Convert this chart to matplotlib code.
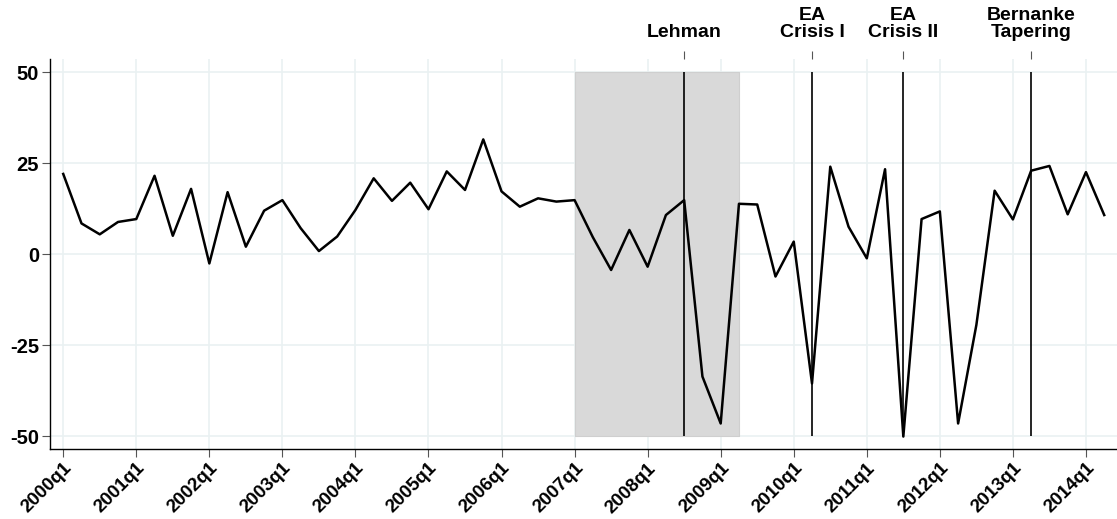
import matplotlib.pyplot as plt

plt.rcParams["font.family"] = ["Liberation Sans", "DejaVu Sans"]
plt.rcParams["font.weight"] = "bold"

# Quarterly series, 2000q1 - 2014q2
quarters = [f"{y}q{q}" for y in range(2000, 2015) for q in range(1, 5)][:58]
values = [22.1, 8.5, 5.5, 8.9, 9.7, 21.6, 5.1, 18.0, -2.5, 17.1,
          2.1, 12.0, 14.9, 7.2, 0.9, 4.9, 12.2, 20.9, 14.7, 19.7,
          12.4, 22.8, 17.7, 31.6, 17.3, 13.1, 15.4, 14.5, 14.9, 4.7,
          -4.3, 6.7, -3.4, 10.8, 14.9, -33.6, -46.5, 13.9, 13.7, -6.1,
          3.5, -35.5, 24.1, 7.6, -1.1, 23.4, -50.1, 9.7, 11.8, -46.5,
          -19.4, 17.5, 9.6, 23.0, 24.3, 11.0, 22.6, 10.8]

# Events (quarter labels) and the shaded crisis period
event_quarters = ["2008q3", "2010q2", "2011q3", "2013q2"]
event_labels = ["Lehman", "EA\nCrisis I", "EA\nCrisis II", "Bernanke\nTapering"]
shade_start, shade_end = "2007q1", "2009q2"

yticks = [-50, -25, 0, 25, 50]

x = list(range(len(values)))
pos = {q: i for i, q in enumerate(quarters)}
event_x = [pos[q] for q in event_quarters]

fig = plt.figure(figsize=(11.17, 5.19), dpi=100)
ax = fig.add_axes([0.045, 0.1343, 0.955, 0.752])

ax.fill_between([pos[shade_start], pos[shade_end]], -50, 50,
                color="#d9d9d9", edgecolor="#cfcfcf", lw=0.8, zorder=1)
ax.vlines(event_x, -50, 50, color="black", lw=1.2, zorder=2)
ax.plot(x, values, color="black", lw=1.8, zorder=3)

ax.set_xlim(-0.71, 57.7)
ax.set_ylim(-53.6, 53.7)

year_ticks = [i for i, q in enumerate(quarters) if q.endswith("q1")]
ax.set_xticks(year_ticks)
ax.set_xticklabels([quarters[i] for i in year_ticks], rotation=45,
                   ha="right", rotation_mode="anchor", fontsize=13.5)
ax.set_yticks(yticks)
ax.set_yticklabels([str(v) for v in yticks], fontsize=14.5)

ax.grid(True, color="#eaf1f2", lw=1.2, zorder=0)
ax.set_axisbelow(True)
for s in ["top", "right"]:
    ax.spines[s].set_visible(False)
ax.spines["left"].set_linewidth(1.0)
ax.spines["bottom"].set_linewidth(1.0)
ax.tick_params(axis="x", length=5.5, color="#555555", pad=2)
ax.tick_params(axis="y", length=6, color="#555555", pad=2)

# event labels along the top
ax2 = ax.twiny()
ax2.set_xlim(ax.get_xlim())
ax2.set_xticks(event_x)
ax2.set_xticklabels(event_labels, fontsize=14, linespacing=1.0)
ax2.tick_params(axis="x", length=6, color="#555555", pad=7)
for s in ax2.spines.values():
    s.set_visible(False)

fig.savefig("out.png", dpi=100)
